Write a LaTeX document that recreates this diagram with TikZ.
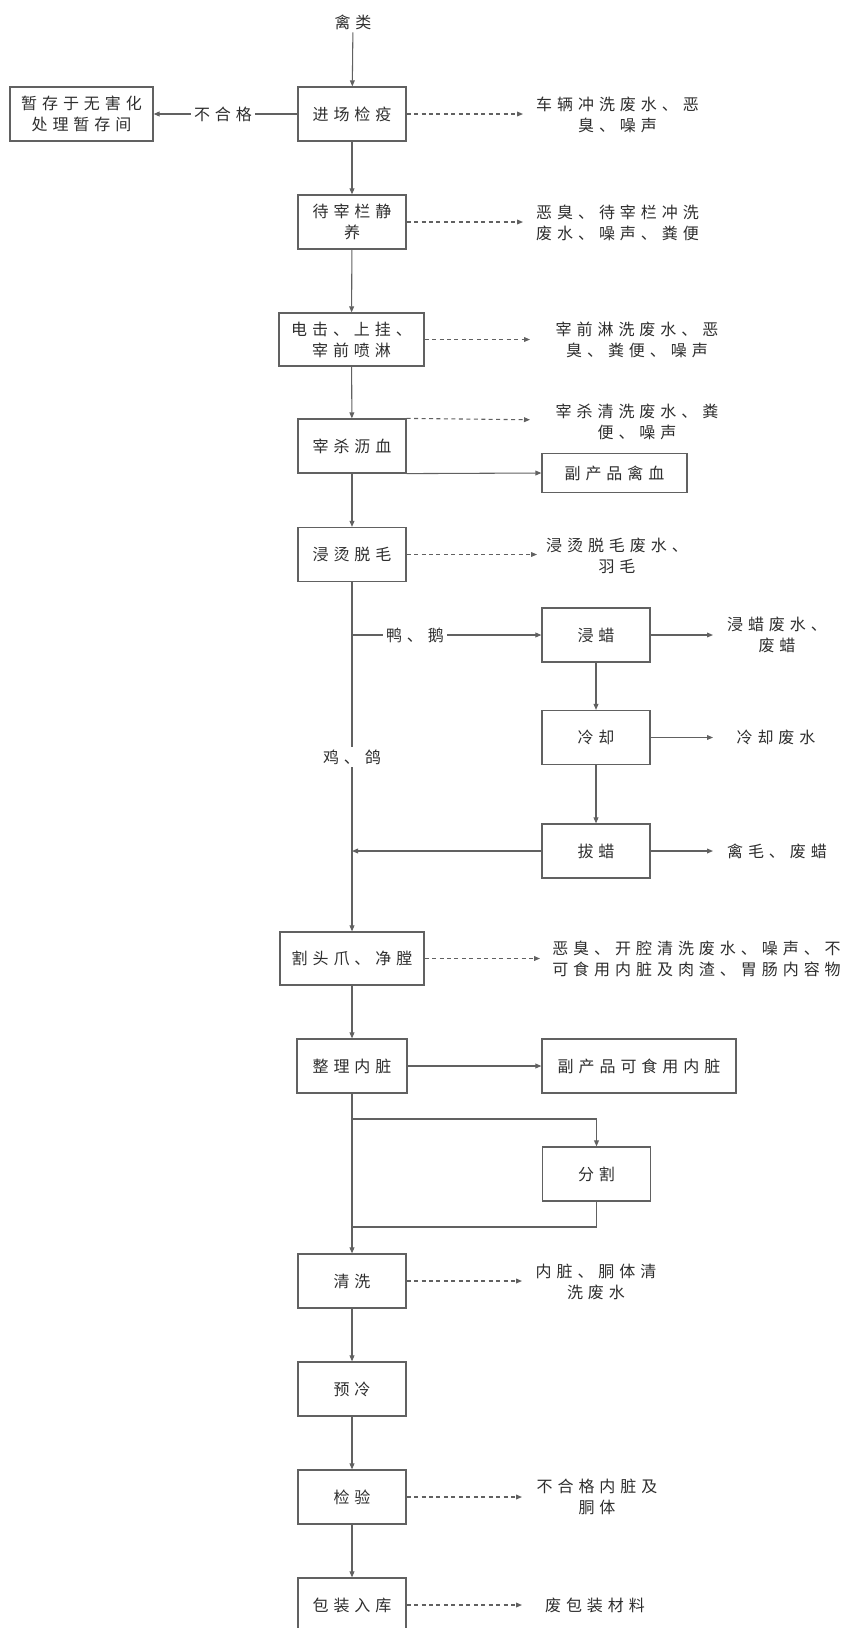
\documentclass[tikz,border=0pt]{standalone}
\usepackage{fontspec}
\newfontfamily\cjkf{Noto Sans CJK SC}[LetterSpace=31]
\usetikzlibrary{arrows.meta}
\definecolor{linec}{gray}{0.38}
\definecolor{textc}{gray}{0.18}
\tikzset{
  every node/.style={font=\cjkf\fontsize{12pt}{15.75pt}\selectfont, text=textc},
  box/.style={draw=linec, line width=0.9pt, minimum width=81pt, minimum height=40.5pt, inner sep=0pt, align=center},
  lbl/.style={inner sep=0pt, align=center},
  onlbl/.style={inner sep=2pt, fill=white, align=center},
  flow/.style={draw=linec, line width=0.8pt, -{Triangle[length=4.5pt,width=3.6pt]}},
  plain/.style={draw=linec, line width=0.8pt},
  emis/.style={flow, dash pattern=on 3pt off 2.6pt},
}
\begin{document}
\begin{tikzpicture}[x=0.75pt,y=-0.75pt]
\clip (0,0) rectangle (858,1628);
% main column
\node[lbl] (src) at (353,22) {禽类};
\node[box] (b1) at (352,114) {进场检疫};
\node[box, minimum width=107.25pt] (rej) at (81.5,114) {暂存于无害化\\处理暂存间};
\node[box] (b2) at (352,222) {待宰栏静\\养};
\node[box, minimum width=108.75pt, minimum height=39.75pt] (b3) at (351.5,339.5) {电击、上挂、\\宰前喷淋};
\node[box] (b4) at (352,446) {宰杀沥血};
\node[box, minimum width=108.75pt, minimum height=29.25pt] (blood) at (614.5,473) {副产品禽血};
\node[box] (b5) at (352,554.5) {浸烫脱毛};
\node[box] (w1) at (596,635) {浸蜡};
\node[box] (w2) at (596,737.5) {冷却};
\node[box] (w3) at (596,851) {拔蜡};
\node[box, minimum width=108pt, minimum height=39.75pt] (b6) at (352,958.5) {割头爪、净膛};
\node[box, minimum width=82.5pt] (b7) at (352,1066) {整理内脏};
\node[box, minimum width=145.5pt] (edible) at (639,1066) {副产品可食用内脏};
\node[box] (cut) at (596.5,1174) {分割};
\node[box] (b8) at (352,1281) {清洗};
\node[box] (b9) at (352,1389) {预冷};
\node[box] (b10) at (352,1497) {检验};
\node[box] (b11) at (352,1605) {包装入库};
% side texts
\node[lbl] (t1) at (617.5,114.5) {车辆冲洗废水、恶\\臭、噪声};
\node[lbl] (t2) at (617.5,222.5) {恶臭、待宰栏冲洗\\废水、噪声、粪便};
\node[lbl] (t3) at (637,339.5) {宰前淋洗废水、恶\\臭、粪便、噪声};
\node[lbl] (t4) at (637,422) {宰杀清洗废水、粪\\便、噪声};
\node[lbl] (t5) at (617,556) {浸烫脱毛废水、\\羽毛};
\node[lbl] (t6) at (777,635) {浸蜡废水、\\废蜡};
\node[lbl] (t7) at (776,737.5) {冷却废水};
\node[lbl] (t8) at (777,851) {禽毛、废蜡};
\node[lbl, anchor=west, align=left] (t9) at (552,958.5) {恶臭、开腔清洗废水、噪声、不\\可食用内脏及肉渣、胃肠内容物};
\node[lbl] (t10) at (596,1282) {内脏、胴体清\\洗废水};
\node[lbl] (t11) at (597,1497) {不合格内脏及\\胴体};
\node[lbl] (t12) at (595,1605) {废包装材料};
% coordinates
\coordinate (e1) at (523,114);
\coordinate (e2) at (523,222);
\coordinate (e3) at (530,339.5);
\coordinate (e4) at (530,419.75);
\coordinate (e5) at (537,554.5);
\coordinate (j1) at (352,635);
\coordinate (e6) at (713,635);
\coordinate (e7) at (713,737.5);
\coordinate (j2) at (352,851);
\coordinate (e8) at (713,851);
\coordinate (e9) at (540,958.5);
\coordinate (j3) at (352,1119);
\coordinate (j4) at (352,1227);
\coordinate (e10) at (522,1281);
\coordinate (e11) at (522,1497);
\coordinate (e12) at (522,1605);
% connectors
\draw[flow, shorten <=2pt] (src) -- (b1);
\draw[flow] (b1) -- (rej);
\node[onlbl] (nq) at (223,114) {不合格};
\draw[flow] (b1) -- (b2);
\draw[flow] (b2) -- (b3);
\draw[flow] (b3) -- (b4);
\draw[flow] (b4) -- (b5);
\draw[flow] (b4.south east) -- (blood.west);
\draw[flow] (b5) -- (b6);
\draw[flow] (j1) -- (w1.west);
\node[onlbl] (ya) at (415,635) {鸭、鹅};
\node[onlbl] (ji) at (352,757) {鸡、鸽};
\draw[flow] (w1) -- (w2);
\draw[flow] (w2) -- (w3);
\draw[flow] (w3.west) -- (j2);
\draw[flow] (w1.east) -- (e6);
\draw[flow] (w2.east) -- (e7);
\draw[flow] (w3.east) -- (e8);
\draw[flow] (b6) -- (b7);
\draw[flow] (b7) -- (edible);
\draw[flow] (b7) -- (b8);
\draw[flow] (j3) -| (cut.north);
\draw[plain] (cut.south) |- (j4);
\draw[flow] (b8) -- (b9);
\draw[flow] (b9) -- (b10);
\draw[flow] (b10) -- (b11);
% emissions
\draw[emis] (b1.east) -- (e1);
\draw[emis] (b2.east) -- (e2);
\draw[emis] (b3.east) -- (e3);
\draw[emis] (b4.north east) -- (e4);
\draw[emis] (b5.east) -- (e5);
\draw[emis] (b6.east) -- (e9);
\draw[emis] (b8.east) -- (e10);
\draw[emis] (b10.east) -- (e11);
\draw[emis] (b11.east) -- (e12);
\end{tikzpicture}
\end{document}
